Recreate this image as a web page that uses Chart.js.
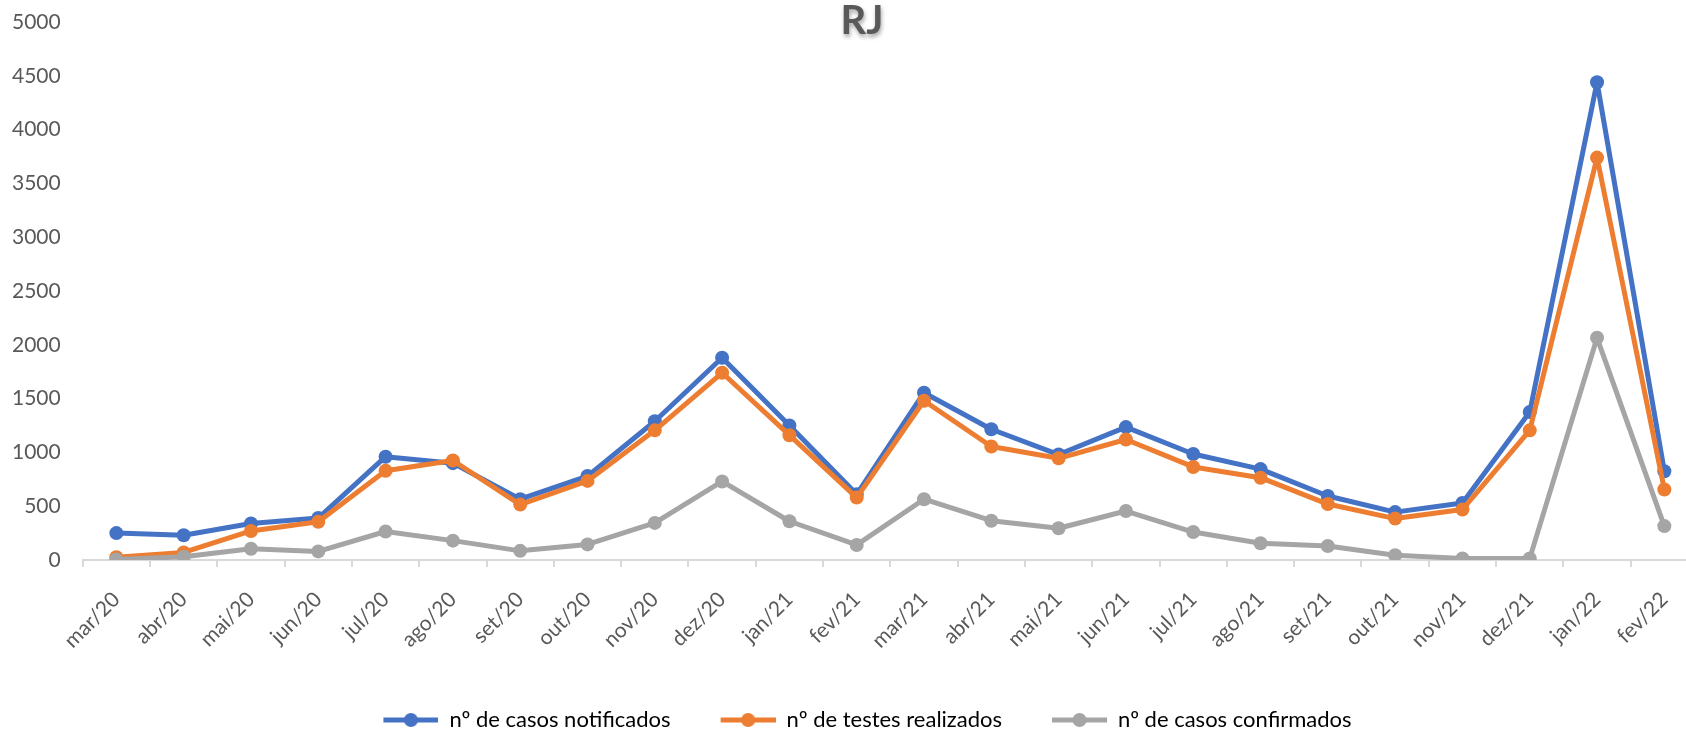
<!DOCTYPE html>
<html>
<head>
<meta charset="utf-8">
<script src="https://cdn.jsdelivr.net/npm/chart.js@4.4.1/dist/chart.umd.min.js"></script>
<style>
  html, body { margin: 0; padding: 0; background: #fff; overflow: hidden; }
  #wrap { width: 1726px; height: 741px; margin-left: -21px; }
</style>
</head>
<body>
<div id="wrap"><canvas id="chartRJ"></canvas></div>
<script>
const meses = ["mar/20", "abr/20", "mai/20", "jun/20", "jul/20", "ago/20", "set/20", "out/20",
  "nov/20", "dez/20", "jan/21", "fev/21", "mar/21", "abr/21", "mai/21", "jun/21",
  "jul/21", "ago/21", "set/21", "out/21", "nov/21", "dez/21", "jan/22", "fev/22"];
const notificados = [250, 230, 340, 390, 960, 900, 565, 780, 1290, 1880, 1250, 610,
  1555, 1215, 980, 1235, 985, 845, 595, 445, 530, 1375, 4440, 825];
const testes = [25, 70, 270, 355, 830, 925, 515, 735, 1205, 1740, 1160, 580,
  1480, 1055, 945, 1120, 865, 765, 520, 385, 470, 1205, 3740, 655];
const confirmados = [5, 30, 105, 80, 265, 180, 85, 145, 345, 730, 360, 140,
  565, 365, 295, 455, 260, 155, 130, 45, 15, 15, 2065, 315];
const nomes = ["nº de casos notificados", "nº de testes realizados", "nº de casos confirmados"];
const cores = ["#4472C4", "#ED7D31", "#A5A5A5"];

const fonte = "Lato";
const cinzaTexto = "#595959";

// marcador da legenda: linha com bolinha (estilo Excel)
function marcador(cor) {
  const c = document.createElement("canvas");
  c.width = 95; c.height = 18;
  const g = c.getContext("2d");
  g.strokeStyle = cor; g.lineWidth = 5;
  g.beginPath(); g.moveTo(40, 9); g.lineTo(95, 9); g.stroke();
  g.fillStyle = cor;
  g.beginPath(); g.arc(67.5, 9, 7, 0, Math.PI * 2); g.fill();
  return c;
}

// titulo desenhado por cima da area do grafico
const tituloRJ = {
  id: "tituloRJ",
  afterDraw(chart) {
    const ctx = chart.ctx;
    ctx.save();
    ctx.font = "bold 40px " + fonte;
    ctx.textAlign = "center";
    ctx.textBaseline = "middle";
    ctx.shadowColor = "rgba(0,0,0,0.35)";
    ctx.shadowOffsetX = 1; ctx.shadowOffsetY = 3; ctx.shadowBlur = 4;
    ctx.fillStyle = cinzaTexto;
    ctx.fillText("RJ", 883, 21);
    ctx.restore();
  }
};

function serie(i, valores, ordem) {
  return {
    label: nomes[i],
    data: valores,
    borderColor: cores[i],
    backgroundColor: cores[i],
    pointBackgroundColor: cores[i],
    pointBorderColor: cores[i],
    borderWidth: 5,
    borderJoinStyle: "round",
    pointRadius: 7,
    pointBorderWidth: 0,
    tension: 0,
    order: ordem
  };
}

new Chart(document.getElementById("chartRJ"), {
  type: "line",
  data: {
    labels: meses,
    datasets: [serie(0, notificados, 3), serie(1, testes, 2), serie(2, confirmados, 1)]
  },
  options: {
    responsive: true,
    maintainAspectRatio: false,
    animation: false,
    layout: { padding: { top: 22, left: 11, right: 0, bottom: 0 } },
    plugins: {
      title: { display: false },
      tooltip: { enabled: false },
      legend: {
        position: "bottom",
        labels: {
          usePointStyle: true,
          pointStyleWidth: 95,
          padding: 10,
          color: cinzaTexto,
          font: { family: fonte, size: 22 },
          generateLabels: chart => chart.data.datasets.map((d, i) => ({
            text: d.label,
            pointStyle: marcador(d.borderColor),
            fillStyle: d.borderColor,
            strokeStyle: d.borderColor,
            lineWidth: 0,
            hidden: false,
            datasetIndex: i
          }))
        }
      }
    },
    scales: {
      x: {
        offset: true,
        grid: { display: true, drawOnChartArea: false, drawTicks: true, tickLength: 7, color: "#d9d9d9", lineWidth: 2, offset: true },
        border: { color: "#d9d9d9", width: 2 },
        ticks: { autoSkip: false, minRotation: 45, maxRotation: 45, color: cinzaTexto, padding: 20, font: { family: fonte, size: 21 } },
        afterFit: s => { s.height = 139; s.paddingLeft = 0; s.paddingRight = 0; }
      },
      y: {
        min: 0,
        max: 5000,
        grid: { display: false, drawTicks: false },
        border: { display: false },
        ticks: { stepSize: 500, padding: 22, color: cinzaTexto, font: { family: fonte, size: 21 }, callback: v => String(v) },
        afterFit: s => { s.paddingTop = 0; s.paddingBottom = 0; }
      }
    }
  },
  plugins: [tituloRJ]
});
</script>
</body>
</html>
